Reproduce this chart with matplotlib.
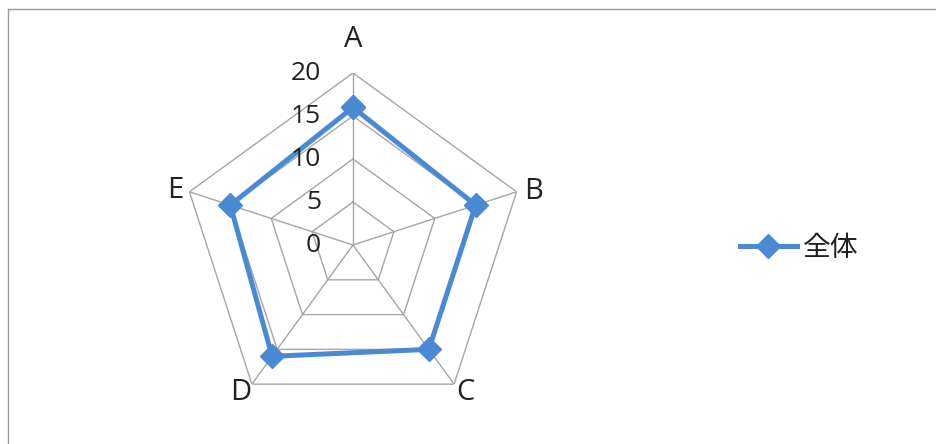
import numpy as np
import matplotlib
matplotlib.use("Agg")
import matplotlib.pyplot as plt
from matplotlib.lines import Line2D

categories = ["A", "B", "C", "D", "E"]
values = [16, 15, 15, 16, 15]
series_name = "全体"
ticks = [0, 5, 10, 15, 20]
rmax = 20

line_color = "#4A89D4"
grid_color = "#A6A6A6"
text_color = "#222222"

plt.rcParams['font.family'] = ['Open Sans', 'Noto Sans CJK JP', 'DejaVu Sans']

fig = plt.figure(figsize=(9.37, 4.44), dpi=100)
ax = fig.add_axes([181/937, 27/444, 344/937, 344/444], projection='polar')
ax.set_theta_zero_location('N')
ax.set_theta_direction(-1)
ax.set_ylim(0, rmax)
ax.grid(False)
ax.spines['polar'].set_visible(False)
ax.set_xticks([])
ax.set_yticks([])
ax.patch.set_alpha(0)

n = len(categories)
angles = np.linspace(0, 2*np.pi, n, endpoint=False)
closed = np.concatenate([angles, angles[:1]])

# polygon grid
for t in ticks[1:]:
    ax.plot(closed, [t]*(n+1), color=grid_color, lw=1.0, zorder=1)
for a in angles:
    ax.plot([a, a], [0, rmax], color=grid_color, lw=1.0, zorder=1)

# data
vals = list(values) + [values[0]]
ax.plot(closed, vals, color=line_color, lw=3.6, marker='D', markersize=12,
        zorder=3, solid_joinstyle='miter')

# category labels
offsets = [(0, 24), (12, 0), (8, -6), (-8, -6), (-10, 1)]
for a, lab, off in zip(angles, categories, offsets):
    ax.annotate(lab, xy=(a, rmax), xytext=off, textcoords='offset points',
                ha='center', va='center', fontsize=21, color=text_color)

# radial tick labels along A axis
for t in ticks:
    ax.annotate(str(t), xy=(0, t), xytext=(-23, 0), textcoords='offset points',
                ha='right', va='center', fontsize=19, color=text_color)

# legend
h = Line2D([], [], color=line_color, lw=3.6, marker='D', markersize=12)
leg = fig.legend([h], [series_name], loc='center left',
                 bbox_to_anchor=(740/937, 1 - 248/444), frameon=False,
                 borderaxespad=0, borderpad=0,
                 handlelength=2.05, handletextpad=0.2,
                 prop={'family': ['Noto Sans CJK JP'], 'size': 20})
for t in leg.get_texts():
    t.set_color(text_color)

# frame lines
fig.add_artist(Line2D([8/937, 8/937], [0, 1 - 9/444], color='#9a9a9a', lw=1.0))
fig.add_artist(Line2D([8/937, 1], [1 - 9/444, 1 - 9/444], color='#9a9a9a', lw=1.0))

fig.savefig('out.png', dpi=100, facecolor='white')
